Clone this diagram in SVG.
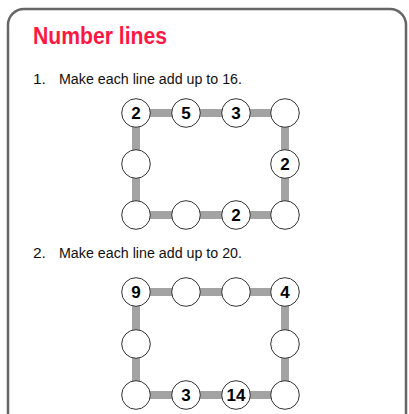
<svg xmlns="http://www.w3.org/2000/svg" width="409" height="414" viewBox="0 0 409 414">
<style>
.frame{fill:#fff;stroke:#666;stroke-width:2.5}
.title{font-family:"Liberation Sans",Arial,sans-serif;font-weight:bold;font-size:23px;fill:#ff1744}
.q{font-family:"Liberation Sans",Arial,sans-serif;font-size:15.5px;fill:#111}
.bar{stroke:#a3a3a3;stroke-width:8;fill:none}
.node circle{fill:#fff;stroke:#333;stroke-width:1}
.node text{font-family:"Liberation Sans",Arial,sans-serif;font-weight:bold;font-size:17px;fill:#000;text-anchor:middle}
</style>
<rect width="409" height="414" fill="#fff"/>
<rect class="frame" x="8" y="9" width="398" height="430" rx="16" ry="16"/>
<text class="title" x="33" y="44" textLength="134" lengthAdjust="spacingAndGlyphs">Number lines</text>
<text class="q" x="33" y="83.5">1.</text>
<text class="q" x="59" y="83.5" textLength="183" lengthAdjust="spacingAndGlyphs">Make each line add up to 16.</text>
<text class="q" x="33" y="258">2.</text>
<text class="q" x="59" y="258" textLength="183" lengthAdjust="spacingAndGlyphs">Make each line add up to 20.</text>
<g id="connectors">
<rect class="bar" x="136" y="113" width="149" height="102"/>
<rect class="bar" x="136" y="292" width="149" height="103"/>
</g>
<g id="p1-n1" class="node"><circle cx="136" cy="113" r="14.3"/><text x="136" y="119">2</text></g>
<g id="p1-n2" class="node"><circle cx="186" cy="113" r="14.3"/><text x="186" y="119">5</text></g>
<g id="p1-n3" class="node"><circle cx="236" cy="113" r="14.3"/><text x="236" y="119">3</text></g>
<g id="p1-n4" class="node"><circle cx="285" cy="113" r="14.3"/></g>
<g id="p1-n5" class="node"><circle cx="136" cy="164" r="14.3"/></g>
<g id="p1-n6" class="node"><circle cx="285" cy="164" r="14.3"/><text x="285" y="170">2</text></g>
<g id="p1-n7" class="node"><circle cx="136" cy="215" r="14.3"/></g>
<g id="p1-n8" class="node"><circle cx="186" cy="215" r="14.3"/></g>
<g id="p1-n9" class="node"><circle cx="236" cy="215" r="14.3"/><text x="236" y="221">2</text></g>
<g id="p1-n10" class="node"><circle cx="285" cy="215" r="14.3"/></g>
<g id="p2-n1" class="node"><circle cx="136" cy="292" r="14.3"/><text x="136" y="298">9</text></g>
<g id="p2-n2" class="node"><circle cx="186" cy="292" r="14.3"/></g>
<g id="p2-n3" class="node"><circle cx="236" cy="292" r="14.3"/></g>
<g id="p2-n4" class="node"><circle cx="285" cy="292" r="14.3"/><text x="285" y="298">4</text></g>
<g id="p2-n5" class="node"><circle cx="136" cy="344" r="14.3"/></g>
<g id="p2-n6" class="node"><circle cx="285" cy="344" r="14.3"/></g>
<g id="p2-n7" class="node"><circle cx="136" cy="395" r="14.3"/></g>
<g id="p2-n8" class="node"><circle cx="186" cy="395" r="14.3"/><text x="186" y="401">3</text></g>
<g id="p2-n9" class="node"><circle cx="236" cy="395" r="14.3"/><text x="236" y="401">14</text></g>
<g id="p2-n10" class="node"><circle cx="285" cy="395" r="14.3"/></g>
</svg>
